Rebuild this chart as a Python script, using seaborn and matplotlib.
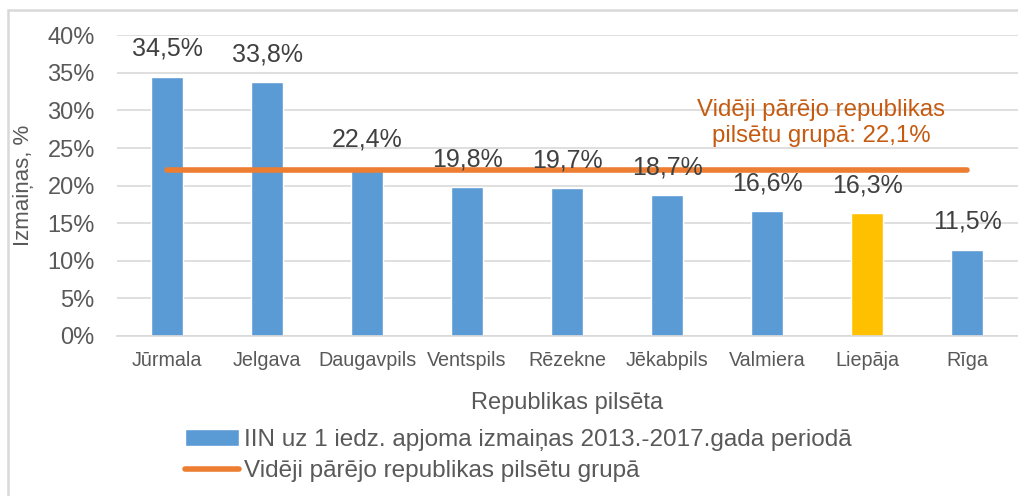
import matplotlib
matplotlib.use("Agg")
import matplotlib.pyplot as plt
from matplotlib.patches import Patch
from matplotlib.lines import Line2D
import seaborn as sns
import pandas as pd

cities = ["Jūrmala", "Jelgava", "Daugavpils", "Ventspils", "Rēzekne",
          "Jēkabpils", "Valmiera", "Liepāja", "Rīga"]
changes = [34.5, 33.8, 22.4, 19.8, 19.7, 18.7, 16.6, 16.3, 11.5]
group_avg = 22.1
highlight = "Liepāja"

bar_label = "IIN uz 1 iedz. apjoma izmaiņas 2013.-2017.gada periodā"
line_label = "Vidēji pārējo republikas pilsētu grupā"

BLUE = "#5B9BD5"
ORANGE = "#ED7D31"
YELLOW = "#FFC000"
GRID = "#D9D9D9"
TXT = "#404040"
GREY = "#595959"

sns.set_theme(style="white")
plt.rcParams['font.family'] = ['Liberation Sans', 'DejaVu Sans']

df = pd.DataFrame({"city": cities, "change": changes})
palette = {c: (YELLOW if c == highlight else BLUE) for c in cities}

fig = plt.figure(figsize=(10.18, 4.96), dpi=100)
ax = fig.add_axes([0.115, 0.3226, 0.885, 0.6064])

sns.barplot(data=df, x="city", y="change", hue="city", palette=palette,
            width=0.32, legend=False, ax=ax, saturation=1)

xs = list(range(len(cities)))
ax.plot(xs, [group_avg] * len(xs), color=ORANGE, lw=4, solid_capstyle="round", zorder=3)

for x, v in zip(xs, changes):
    ax.annotate(f"{v:.1f}%".replace(".", ","), (x, v), xytext=(0, 15),
                textcoords="offset points", ha="center", va="baseline",
                fontsize=18, color=TXT)

ax.text(6.54, 28.3, "Vidēji pārējo republikas\npilsētu grupā: " + f"{group_avg:.1f}%".replace(".", ","),
        ha="center", va="center", fontsize=17.3, color="#C55A11", linespacing=1.2)

ax.set_ylim(0, 40)
ax.set_xlim(-0.5, len(cities) - 0.49)
ax.set_yticks(range(0, 41, 5))
ax.set_yticklabels([f"{t}%" for t in range(0, 41, 5)], fontsize=17, color=GREY)
ax.tick_params(axis="x", labelsize=14.2, labelcolor=GREY, length=0, pad=11)
ax.tick_params(axis="y", length=0, pad=16)
ax.yaxis.grid(True, color=GRID, lw=1.2)
ax.set_axisbelow(True)
for s in ["top", "right", "left"]:
    ax.spines[s].set_visible(False)
ax.spines["bottom"].set_color(GRID)
ax.spines["bottom"].set_linewidth(1.2)

ax.set_xlabel("Republikas pilsēta", fontsize=17, color=GREY, labelpad=16)
ax.set_ylabel("Izmaiņas, %", fontsize=16, color=GREY, labelpad=10)

handles = [Patch(facecolor=BLUE, label=bar_label),
           Line2D([0], [0], color=ORANGE, lw=4, solid_capstyle="round", label=line_label)]
leg = fig.legend(handles=handles, loc="upper left", bbox_to_anchor=(0.182, 0.136),
                 frameon=False, fontsize=17.5, handlelength=2.2, handletextpad=0.2,
                 labelspacing=0.4, borderaxespad=0, borderpad=0)
for t in leg.get_texts():
    t.set_color(GREY)

fig.patches.append(plt.Rectangle((0.0075, -0.1), 1.1, 1.08, transform=fig.transFigure,
                                 fill=False, edgecolor=GRID, lw=1.8))

fig.savefig("out.png", dpi=100)
